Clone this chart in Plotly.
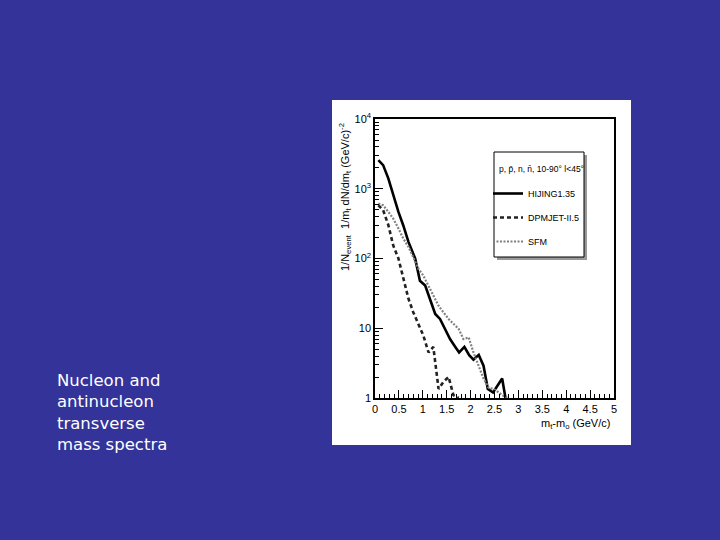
import plotly.graph_objects as go

# ---- data ----
hijing_x = [0.07, 0.17, 0.28, 0.38, 0.49, 0.59, 0.70, 0.84, 0.94, 1.05, 1.15, 1.26, 1.36, 1.47,
            1.57, 1.68, 1.76, 1.87, 1.97, 2.06, 2.17, 2.27, 2.36, 2.47, 2.57, 2.66, 2.73]
hijing_y = [2570, 2180, 1400, 815, 465, 300, 173, 100, 48, 41, 26.5, 16, 13.6, 9.8,
            7.0, 5.4, 4.5, 5.4, 4.1, 3.55, 4.15, 2.9, 1.35, 1.2, 1.5, 1.9, 1.0]

dpmjet_x = [0.07, 0.17, 0.28, 0.38, 0.49, 0.59, 0.70, 0.80, 0.91, 1.01, 1.12, 1.22, 1.33, 1.43,
            1.54, 1.64, 1.75]
dpmjet_y = [580, 493, 300, 155, 100, 51, 26.5, 17, 11, 7.9, 4.5, 5.4, 1.35, 1.7,
            2.0, 1.1, 1.0]

sfm_x = [0.07, 0.17, 0.28, 0.38, 0.49, 0.59, 0.70, 0.80, 0.91, 1.01, 1.12, 1.22, 1.33, 1.43,
         1.54, 1.64, 1.75, 1.85, 1.96, 2.06, 2.17, 2.27, 2.38, 2.48, 2.59, 2.69, 2.78]
sfm_y = [615, 580, 465, 375, 270, 194, 147, 105, 71, 57, 41, 29.5, 21, 17,
         13.6, 11.6, 9.8, 7.0, 7.4, 4.5, 2.9, 1.9, 1.4, 1.35, 1.2, 1.07, 1.0]

series_names = ["HIJING1.35", "DPMJET-II.5", "SFM"]
legend_title = "p, p\u0304, n, n\u0304, 10-90\u00b0 l<45\u00b0"

x_tick_vals = [0, 0.5, 1, 1.5, 2, 2.5, 3, 3.5, 4, 4.5, 5]
x_tick_text = ["0", "0.5", "1", "1.5", "2", "2.5", "3", "3.5", "4", "4.5", "5"]
y_tick_vals = [1, 10, 100, 1000, 10000]
y_tick_text = ["1", "10", "10<sup>2</sup>", "10<sup>3</sup>", "10<sup>4</sup>"]
y_minor_vals = [m * 10 ** e for e in range(4) for m in range(2, 10)]

slide_text = "Nucleon and<br>antinucleon<br>transverse<br>mass spectra"

# ---- figure ----
W, H = 720, 540
L, R, T, B = 375, 614, 119, 398  # plot frame in pixels
pw, ph = R - L, B - T


def px(xp):
    return (xp - L) / pw


def py(yp):
    return (B - yp) / ph


fig = go.Figure()
fig.add_trace(go.Scatter(x=hijing_x, y=hijing_y, mode="lines", name=series_names[0],
                         line=dict(color="black", width=2.6), legendgroup="a"))
fig.add_trace(go.Scatter(x=dpmjet_x, y=dpmjet_y, mode="lines", name=series_names[1],
                         line=dict(color="#222222", width=2.6, dash="4px,3px"), legendgroup="b"))
fig.add_trace(go.Scatter(x=sfm_x, y=sfm_y, mode="lines", name=series_names[2],
                         line=dict(color="#808080", width=2.2, dash="2px,1.5px"), legendgroup="c"))

shapes = [
    # white picture panel
    dict(type="rect", xref="paper", yref="paper", x0=px(332), x1=px(631), y0=py(445), y1=py(100),
         fillcolor="white", line=dict(width=0), layer="below"),
    # legend shadow
    dict(type="rect", xref="paper", yref="paper", x0=px(497), x1=px(587), y0=py(260), y1=py(155),
         fillcolor="#999999", line=dict(width=0), layer="above"),
    # legend box
    dict(type="rect", xref="paper", yref="paper", x0=px(494), x1=px(584), y0=py(257), y1=py(152),
         fillcolor="white", line=dict(color="black", width=1), layer="above"),
]

font = "Liberation Sans, Arial, sans-serif"

annotations = [
    dict(text=slide_text, x=px(55), y=py(369), xref="paper", yref="paper", xanchor="left",
         yanchor="top", align="left", showarrow=False,
         font=dict(family="DejaVu Sans, sans-serif", size=16.5, color="white"),
         ),
    dict(text="m<sub>t</sub>-m<sub>o</sub> (GeV/c)", x=px(612), y=py(424), xref="paper", yref="paper",
         xanchor="right", yanchor="middle", showarrow=False,
         font=dict(family=font, size=11, color="black")),
    dict(text="1/N<sub>event</sub>  1/m<sub>t</sub> dN/dm<sub>t</sub> (GeV/c)<sup>-2</sup>",
         x=px(345), y=py(197), xref="paper", yref="paper", textangle=-90,
         xanchor="center", yanchor="middle", showarrow=False,
         font=dict(family=font, size=11, color="black")),
    dict(text=legend_title, x=px(497), y=py(169), xref="paper", yref="paper",
         xanchor="left", yanchor="middle", showarrow=False,
         font=dict(family=font, size=8.5, color="black")),
]

fig.update_layout(
    width=W, height=H,
    margin=dict(l=L, r=W - R, t=T, b=H - B, pad=0),
    paper_bgcolor="#333399",
    plot_bgcolor="white",
    shapes=shapes,
    annotations=annotations,
    showlegend=True,
    legend=dict(x=px(488), y=py(179), xanchor="left", yanchor="top",
                bgcolor="rgba(0,0,0,0)", borderwidth=0,
                font=dict(family=font, size=9, color="black"),
                itemwidth=30, tracegroupgap=5),
    font=dict(family=font, size=11, color="black"),
    xaxis=dict(range=[0, 5], showgrid=False, zeroline=False, showline=True, mirror=True,
               linecolor="black", linewidth=1.5, ticks="inside", ticklen=8, tickwidth=1.2,
               tickcolor="black", tickvals=x_tick_vals, ticktext=x_tick_text,
               minor=dict(ticks="inside", ticklen=4, dtick=0.1, tickcolor="black", tickwidth=1.2,
                          showgrid=False),
               tickfont=dict(family=font, size=11)),
    yaxis=dict(type="log", range=[0, 4], showgrid=False, zeroline=False, showline=True, mirror=True,
               linecolor="black", linewidth=1.5, ticks="inside", ticklen=8, tickwidth=1.2,
               tickcolor="black", tickvals=y_tick_vals, ticktext=y_tick_text,
               minor=dict(ticks="inside", ticklen=4, tickvals=y_minor_vals, tickcolor="black",
                          tickwidth=1.2, showgrid=False),
               tickfont=dict(family=font, size=11)),
)

fig.write_html("out.html", config={"displayModeBar": False},
               post_script="document.body.style.margin='0';")
